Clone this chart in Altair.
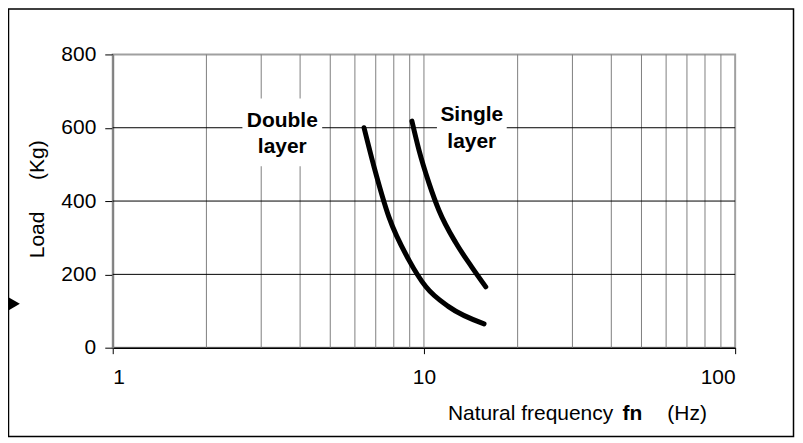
import altair as alt
import pandas as pd

# ---- data ----
double_f = [6.42, 6.92, 7.72, 8.95, 10.15, 12.0, 15.6]
double_load = [600, 492, 356, 239, 166, 112, 65]
single_f = [9.15, 9.64, 10.38, 11.17, 12.66, 14.25, 15.8]
single_load = [618, 539, 449, 375, 286, 220, 166]

x_grid = [2, 3, 4, 5, 6, 7, 8, 9, 10, 20, 30, 40, 50, 60, 70, 80, 90]
y_grid = [200, 400, 600]
x_ticks = [1, 10, 100]
y_ticks = [0, 200, 400, 600, 800]

# label annotations (data coordinates)
label_text = ["Double", "layer", "Single", "layer"]
label_f = [3.507, 3.507, 14.25, 14.25]
label_load = [601, 531, 619, 544]
box_f1 = [2.61, 11.01]
box_f2 = [4.71, 18.45]
box_l1 = [495, 512]
box_l2 = [680, 675]

FONT = "Liberation Sans"
FS = 21
W, H = 624, 294

xscale = alt.Scale(type="log", domain=[1, 100])
yscale = alt.Scale(domain=[0, 800])
xaxis = alt.Axis(values=x_ticks, format="d", grid=False, title=None,
                 tickSize=6, tickColor="black", domainColor="black",
                 domainWidth=1.5, labelPadding=13)
yaxis = alt.Axis(values=y_ticks, grid=False, title=None,
                 tickSize=8, tickColor="black", domainColor="#808080",
                 domainWidth=2, labelPadding=9)

curves = pd.DataFrame({
    "f": double_f + single_f,
    "load": double_load + single_load,
    "series": ["Double"] * len(double_f) + ["Single"] * len(single_f),
})
labels = pd.DataFrame({"t": label_text, "f": label_f, "load": label_load})
boxes = pd.DataFrame({"f1": box_f1, "f2": box_f2, "l1": box_l1, "l2": box_l2})

vgrid = alt.Chart(pd.DataFrame({"g": x_grid})).mark_rule(
    color="#808080", strokeWidth=1
).encode(x=alt.X("g:Q", scale=xscale, axis=xaxis))

hgrid = alt.Chart(pd.DataFrame({"h": y_grid})).mark_rule(
    color="black", strokeWidth=1
).encode(y=alt.Y("h:Q", scale=yscale, axis=yaxis))

rects = alt.Chart(boxes).mark_rect(color="white").encode(
    x=alt.X("f1:Q", scale=xscale, axis=xaxis), x2="f2:Q",
    y=alt.Y("l1:Q", scale=yscale, axis=yaxis), y2="l2:Q",
)

lines = alt.Chart(curves).mark_line(
    color="black", strokeWidth=5, interpolate="monotone", strokeCap="round"
).encode(
    x=alt.X("f:Q", scale=xscale, axis=xaxis),
    y=alt.Y("load:Q", scale=yscale, axis=yaxis),
    detail="series:N",
)

texts = alt.Chart(labels).mark_text(
    font=FONT, fontSize=FS, fontWeight="bold", color="black",
    align="center", baseline="alphabetic"
).encode(
    x=alt.X("f:Q", scale=xscale, axis=xaxis),
    y=alt.Y("load:Q", scale=yscale, axis=yaxis),
    text="t:N",
)

one = alt.Data(values=[{}])

def txt(s, x, y, **kw):
    return alt.Chart(one).mark_text(text=s, font=FONT, fontSize=FS,
                                    color="black", **kw).encode(
        x=alt.value(x), y=alt.value(y))

t1 = txt("Natural frequency", 336, 366, align="left", baseline="alphabetic")
t2 = txt("fn", 511, 366, align="left", baseline="alphabetic", fontWeight="bold")
t3 = txt("(Hz)", 556, 366, align="left", baseline="alphabetic")
t4 = txt("Load", -75, 181, align="center", baseline="middle", angle=270)
t5 = txt("(Kg)", -75, 106, align="center", baseline="middle", angle=270)

frame = alt.Chart(one).mark_rect(
    fill="transparent", stroke="black", strokeWidth=1.5
).encode(x=alt.value(-104.5), x2=alt.value(682.5),
         y=alt.value(-45.5), y2=alt.value(383))

arrow = alt.Chart(one).mark_point(
    shape="triangle-right", filled=True, color="black", size=420, opacity=1
).encode(x=alt.value(-102), y=alt.value(250))

chart = alt.layer(
    vgrid, hgrid, rects, lines, texts, t1, t2, t3, t4, t5, frame, arrow
).properties(
    width=W, height=H,
    autosize=alt.AutoSizeParams(type="none"),
    padding={"left": 105, "top": 46, "right": 60, "bottom": 91},
).configure_view(
    stroke="#a0a0a0", strokeWidth=2
).configure_axis(
    labelFont=FONT, labelFontSize=FS, labelColor="black"
)

chart.save("out.html", embed_options={"renderer": "svg", "actions": False})
